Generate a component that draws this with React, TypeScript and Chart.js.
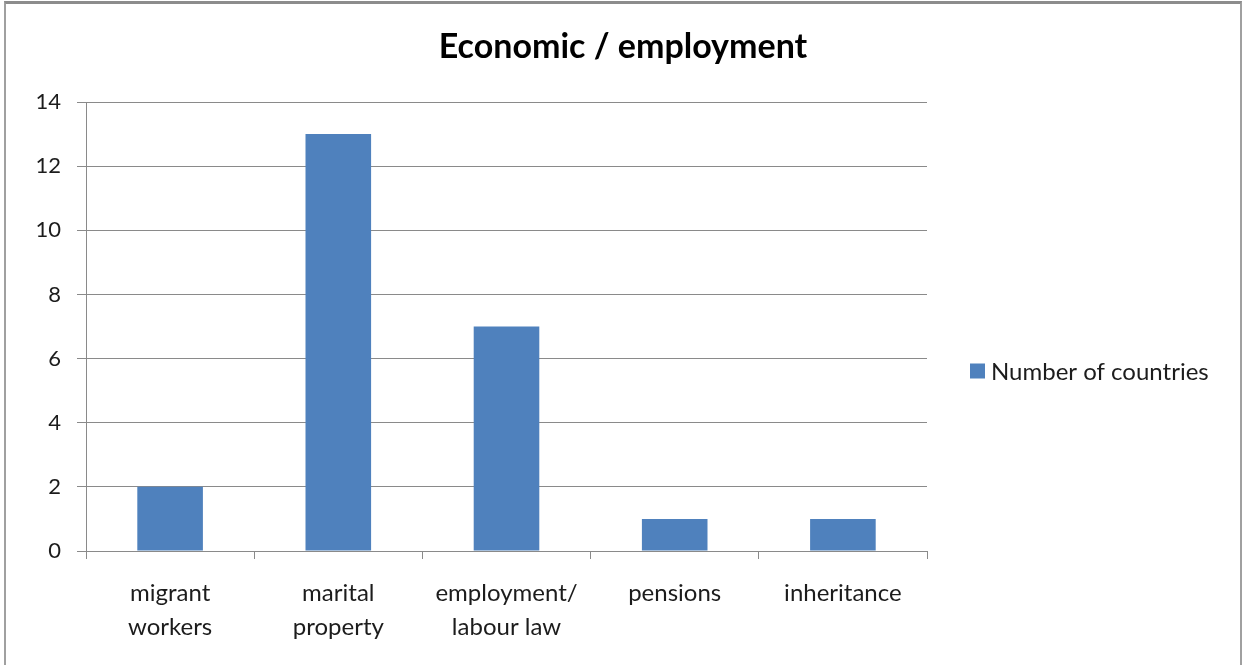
import React, { useEffect, useRef } from "react";
import { Chart, registerables } from "chart.js";

Chart.register(...registerables);

const titleText = "Economic / employment";
const seriesName = "Number of countries";
const categories: string[][] = [
  ["migrant", "workers"],
  ["marital", "property"],
  ["employment/", "labour law"],
  ["pensions"],
  ["inheritance"],
];
const values: number[] = [2, 13, 7, 1, 1];
const yMin = 0;
const yMax = 14;
const yStep = 2;

const FONT = "Lato, 'Open Sans', sans-serif";
const BAR_COLOR = "#4F81BD";
const GRID_COLOR = "#8a8a8a";
const TEXT_COLOR = "#1c1c1c";

const decorPlugin = {
  id: "decor",
  afterDraw(chart: any) {
    const ctx = chart.ctx;
    const ds = chart.data.datasets[0];
    ctx.save();
    // title
    ctx.fillStyle = "#000";
    ctx.font = `bold 34px ${FONT}`;
    ctx.textAlign = "center";
    ctx.textBaseline = "middle";
    ctx.fillText(titleText, 623, 47);
    // legend
    const x = 970;
    const y = 371;
    ctx.fillStyle = ds.backgroundColor;
    ctx.fillRect(x, y - 7.5, 15, 15);
    ctx.fillStyle = TEXT_COLOR;
    ctx.font = `24px ${FONT}`;
    ctx.textBaseline = "middle";
    ctx.textAlign = "left";
    ctx.fillText(ds.label, x + 21, y + 1);
    ctx.restore();
  },
};

export default function App() {
  const ref = useRef<HTMLCanvasElement | null>(null);
  useEffect(() => {
    if (!ref.current) return;
    const chart = new Chart(ref.current, {
      type: "bar",
      data: {
        labels: categories,
        datasets: [
          {
            label: seriesName,
            data: values,
            backgroundColor: BAR_COLOR,
            barPercentage: 0.39,
            categoryPercentage: 1,
          },
        ],
      },
      options: {
        responsive: false,
        animation: false,
        devicePixelRatio: 1,
        layout: { padding: { left: 5, right: 315, top: 102, bottom: 0 } },
        plugins: {
          legend: { display: false },
          tooltip: { enabled: false },
          title: { display: false },
        },
        scales: {
          x: {
            offset: true,
            border: { display: true, color: GRID_COLOR, width: 1 },
            grid: {
              offset: true,
              drawOnChartArea: false,
              drawTicks: true,
              tickLength: 8,
              color: GRID_COLOR,
            },
            ticks: {
              color: TEXT_COLOR,
              font: { family: FONT, size: 24, lineHeight: 1.42 },
              padding: 17,
              maxRotation: 0,
              autoSkip: false,
            },
            afterFit(scale: any) {
              scale.height = 665 - 551;
            },
          },
          y: {
            min: yMin,
            max: yMax,
            border: { display: true, color: GRID_COLOR, width: 1 },
            grid: { color: GRID_COLOR, tickLength: 9 },
            ticks: {
              stepSize: yStep,
              color: TEXT_COLOR,
              font: { family: FONT, size: 22 },
              padding: 16,
            },
            afterFit(scale: any) {
              scale.width = 86 - 5;
            },
          },
        },
      },
      plugins: [decorPlugin],
    });
    return () => chart.destroy();
  }, []);
  return (
    <div style={{ position: "fixed", left: 0, top: 0, width: 1242, height: 665, background: "#fff" }}>
      <canvas ref={ref} width={1242} height={665} style={{ position: "absolute", left: 0, top: 0 }} />
      <div
        style={{
          position: "absolute",
          left: 4,
          top: 1,
          width: 1234,
          height: 700,
          borderTop: "3px solid #8c8c8c",
          borderLeft: "2px solid #a0a0a0",
          borderRight: "2px solid #a0a0a0",
          pointerEvents: "none",
        }}
      />
    </div>
  );
}
